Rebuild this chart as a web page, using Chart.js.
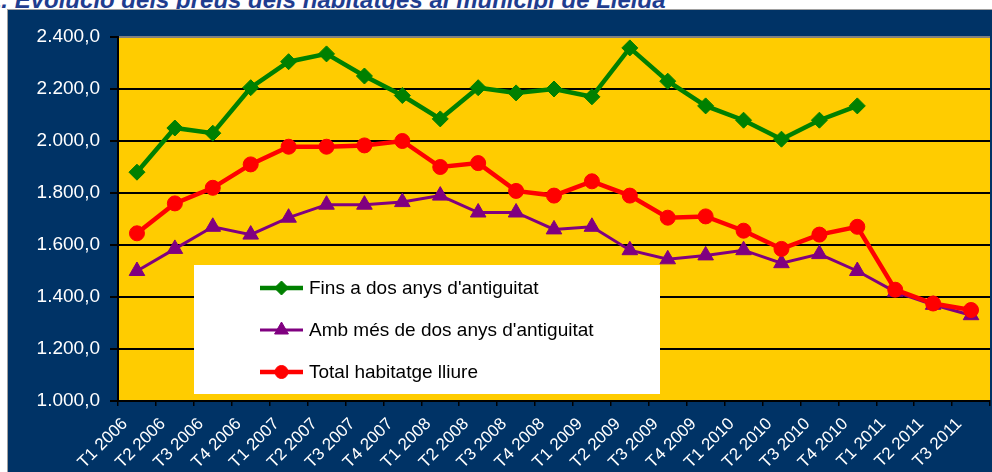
<!DOCTYPE html>
<html><head><meta charset="utf-8">
<script src="https://cdn.jsdelivr.net/npm/chart.js@4/dist/chart.umd.min.js"></script>
<style>
html,body{margin:0;padding:0;background:#fff;width:992px;height:472px;overflow:hidden;position:relative;font-family:'Liberation Sans',Arial,sans-serif}
#title{position:absolute;left:-12px;top:-12px;font:italic bold 24px 'Liberation Sans',Arial,sans-serif;color:#1F3D8F;white-space:nowrap;line-height:24px}
#box{position:absolute;left:7px;top:9px;width:985px;height:463px;background:#003366;border-left:1px solid #a0a0a0;border-top:1px solid #a0a0a0;box-sizing:border-box}
#wrap{position:absolute;left:8px;top:10px;width:992px;height:462px}
</style>
</head><body>
<div id="title">1. Evolució dels preus dels habitatges al municipi de Lleida</div>
<div id="box"></div>
<div id="wrap"><canvas id="c" width="992" height="462"></canvas></div>
<script>
const categories = ["T1 2006","T2 2006","T3 2006","T4 2006","T1 2007","T2 2007","T3 2007","T4 2007",
  "T1 2008","T2 2008","T3 2008","T4 2008","T1 2009","T2 2009","T3 2009","T4 2009",
  "T1 2010","T2 2010","T3 2010","T4 2010","T1 2011","T2 2011","T3 2011"];
const finsDosAnys = [1880,2050,2030,2205,2305,2335,2250,2175,2085,2205,2185,2200,2170,2358,2230,2135,2080,2007,2080,2135,null,null,null];
const mesDosAnys  = [1500,1585,1670,1640,1705,1755,1755,1765,1790,1725,1725,1660,1670,1580,1545,1560,1580,1530,1565,1500,1420,1370,1330];
const totalLliure = [1645,1760,1820,1910,1978,1978,1983,2000,1900,1915,1808,1790,1845,1790,1705,1710,1655,1585,1640,1670,1428,1375,1350];
const seriesLabels = ["Fins a dos anys d'antiguitat","Amb més de dos anys d'antiguitat","Total habitatge lliure"];
const yTicks = [1000,1200,1400,1600,1800,2000,2200,2400];

const FONT = "'Liberation Sans', Arial, sans-serif";
function fmt(v){ const t = Math.floor(v/1000), r = v%1000; return t + '.' + String(r).padStart(3,'0') + ',0'; }

const legendPlugin = {
  id: 'boxLegend',
  afterDraw(chart){
    const ctx = chart.ctx, a = chart.chartArea;
    const bx = a.left + 76, by = a.top + 228, bw = 466, bh = 129;
    ctx.save();
    ctx.fillStyle = '#ffffff';
    ctx.fillRect(bx, by, bw, bh);
    [0,1,2].forEach((i, k) => {
      const ds = chart.data.datasets[i];
      const y = by + 23 + k*42;
      const x0 = bx + 66, x1 = bx + 109;
      ctx.strokeStyle = ds.borderColor; ctx.lineWidth = ds.borderWidth;
      ctx.beginPath(); ctx.moveTo(x0, y); ctx.lineTo(x1, y); ctx.stroke();
      ctx.fillStyle = ds.backgroundColor; ctx.strokeStyle = ds.borderColor; ctx.lineWidth = 1;
      Chart.helpers.drawPoint(ctx, {pointStyle: ds.pointStyle, radius: ds.pointRadius - 1, rotation: 0, borderWidth: 1}, (x0+x1)/2, y);
      ctx.fillStyle = '#000';
      ctx.font = '19px ' + FONT;
      ctx.textBaseline = 'middle'; ctx.textAlign = 'left';
      ctx.fillText(seriesLabels[i], bx + 115, y + 1);
    });
    ctx.restore();
  }
};

new Chart(document.getElementById('c'), {
  type: 'line',
  data: {
    labels: categories,
    datasets: [
      {label: seriesLabels[0], data: finsDosAnys, borderColor:'#008000', backgroundColor:'#008000', borderWidth:4.5,
       pointStyle:'rectRot', pointRadius:8, pointBorderWidth:1, order:1, spanGaps:false},
      {label: seriesLabels[1], data: mesDosAnys, borderColor:'#800080', backgroundColor:'#800080', borderWidth:3,
       pointStyle:'triangle', pointRadius:9, pointBorderWidth:1, order:2},
      {label: seriesLabels[2], data: totalLliure, borderColor:'#ff0000', backgroundColor:'#ff0000', borderWidth:4.5,
       pointStyle:'circle', pointRadius:7.5, pointBorderWidth:1, order:0}
    ]
  },
  options: {
    responsive:false, animation:false, events:[],
    layout:{padding:{top:27,left:0,right:1,bottom:0}},
    plugins:{legend:{display:false}, tooltip:{enabled:false}},
    elements:{line:{tension:0}},
    scales:{
      x:{
        offset:true,
        grid:{offset:true, drawOnChartArea:false, tickLength:5, color:'#000', lineWidth:1.5},
        border:{color:'#000', width:2},
        ticks:{color:'#fff', autoSkip:false, minRotation:45, maxRotation:45, labelOffset:-12, padding:8,
               font:{family:FONT, size:17}},
        afterFit(s){ s.height = 71; s.paddingLeft = 0; s.paddingRight = 0; }
      },
      y:{
        min:1000, max:2400,
        afterBuildTicks(s){ s.ticks = yTicks.map(v => ({value:v})); },
        grid:{color:(c)=> (c.tick && c.tick.value===2400) ? '#808080' : '#000', lineWidth:2, tickLength:8, tickColor:'#000'},
        border:{color:'#000', width:2},
        ticks:{color:'#fff', padding:10, font:{family:FONT, size:19}, callback:(v)=>fmt(v)},
        afterFit(s){ s.width = 110; }
      }
    }
  },
  plugins:[legendPlugin, {
    id:'plotBg',
    beforeDraw(chart){ const a = chart.chartArea, ctx = chart.ctx; ctx.save(); ctx.fillStyle='#FFCC00'; ctx.fillRect(a.left, a.top, a.right-a.left, a.bottom-a.top); ctx.restore(); }
  }]
});
</script>
</body></html>
